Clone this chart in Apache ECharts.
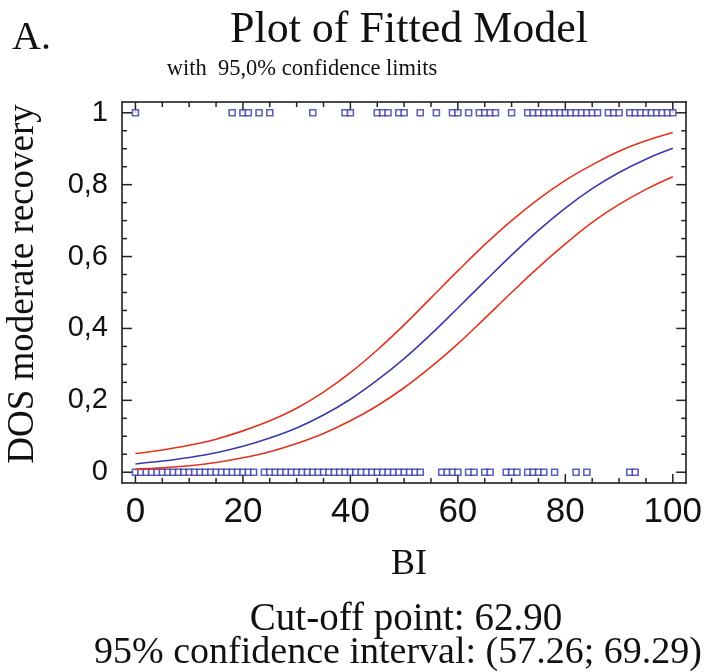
<!DOCTYPE html>
<html>
<head>
<meta charset="utf-8">
<script src="https://cdn.jsdelivr.net/npm/echarts@6/dist/echarts.min.js"></script>
<style>
  html, body { margin: 0; padding: 0; background: #fff; }
  #main { width: 705px; height: 672px; }
</style>
</head>
<body>
<div id="main"></div>
<script>
// BI values of the observed cases (y = 1 recovered, y = 0 not)
var biRecovered = [0, 18, 20, 21, 23, 25, 33, 39, 40, 45, 46, 47, 49, 50, 53, 56, 59, 60, 62,
    64, 65, 66, 67, 70, 73, 74, 75, 76, 77, 78, 79, 80, 81, 82, 83, 84, 85, 86,
    88, 89, 90, 92, 93, 94, 95, 96, 97, 98, 99, 100];
var biNotRecovered = [0, 1, 2, 3, 4, 5, 6, 7, 8, 9, 10, 11, 12, 13, 14, 15, 16, 17, 18, 19, 20, 21, 22,
    24, 25, 26, 27, 28, 29, 30, 31, 32, 33, 34, 35, 36, 37, 38, 39, 40, 41, 42, 43, 44, 45,
    46, 47, 48, 49, 50, 51, 52, 53,
    57, 58, 59, 60, 62, 63, 65, 66, 69, 70, 71, 73, 74, 75, 76, 78, 82, 84, 92, 93];

// fitted curve and 95% limits
var biGrid = [0, 5, 10, 15, 20, 25, 30, 35, 40, 45, 50, 55, 60, 65, 70, 75, 80, 85, 90, 95, 100];
var fitted = [0.023, 0.031, 0.041, 0.054, 0.072, 0.095, 0.123, 0.159, 0.203, 0.256, 0.316,
    0.384, 0.457, 0.531, 0.604, 0.673, 0.735, 0.789, 0.834, 0.871, 0.901];
var upper = [0.052, 0.062, 0.075, 0.092, 0.115, 0.143, 0.178, 0.223, 0.277, 0.340, 0.410,
    0.485, 0.560, 0.633, 0.700, 0.760, 0.812, 0.855, 0.893, 0.922, 0.945];
var lower = [0.008, 0.012, 0.018, 0.027, 0.040, 0.057, 0.080, 0.108, 0.143, 0.185, 0.235,
    0.293, 0.357, 0.428, 0.500, 0.570, 0.635, 0.695, 0.745, 0.787, 0.822];

// axis ranges and tick values
var xMin = -2.5, xMax = 102.5, yMin = -0.03, yMax = 1.03;
var xMajor = [0, 20, 40, 60, 80, 100];
var xMinor = [5, 10, 15, 25, 30, 35, 45, 50, 55, 65, 70, 75, 85, 90, 95];
var yMajor = [0, 0.2, 0.4, 0.6, 0.8, 1];
var yMinor = [0.05, 0.1, 0.15, 0.25, 0.3, 0.35, 0.45, 0.5, 0.55, 0.65, 0.7, 0.75, 0.85, 0.9, 0.95];

var serif = '"Liberation Serif", "DejaVu Serif", serif';
var sans = '"Liberation Sans", Arial, sans-serif';
var blue = '#3a3aa8';
var red = '#e0341e';

function pairs(xs, ys) {
    return xs.map(function (x, i) { return [x, ys[i]]; });
}
function constPairs(xs, y) {
    return xs.map(function (x) { return [x, y]; });
}

// inward frame ticks: [x, y, pixel dx, pixel dy], placed through the axes
var tickData = []
    .concat(xMajor.map(function (v) { return [v, yMin, 0, -9]; }))
    .concat(xMinor.map(function (v) { return [v, yMin, 0, -5]; }))
    .concat(xMajor.map(function (v) { return [v, yMax, 0, 11]; }))
    .concat(xMinor.map(function (v) { return [v, yMax, 0, 5]; }))
    .concat(yMajor.map(function (v) { return [xMin, v, 10, 0]; }))
    .concat(yMinor.map(function (v) { return [xMin, v, 5, 0]; }))
    .concat(yMajor.map(function (v) { return [xMax, v, -10, 0]; }))
    .concat(yMinor.map(function (v) { return [xMax, v, -5, 0]; }));

function xAx(pos, labels) {
    return {
        type: 'value', position: pos, min: xMin, max: xMax,
        axisLine: { show: true, onZero: false, lineStyle: { color: '#111', width: 1.5 } },
        splitLine: { show: false },
        axisTick: { show: false },
        axisLabel: labels ? { show: true, customValues: xMajor, margin: 12,
            fontFamily: sans, fontSize: 35, color: '#111' } : { show: false }
    };
}
function yAx(pos, labels) {
    return {
        type: 'value', position: pos, min: yMin, max: yMax,
        axisLine: { show: true, onZero: false, lineStyle: { color: '#111', width: 1.5 } },
        splitLine: { show: false },
        axisTick: { show: false },
        axisLabel: labels ? { show: true, customValues: yMajor, margin: 14,
            fontFamily: sans, fontSize: 29, color: '#111',
            formatter: function (v) { return String(v).replace('.', ','); } } : { show: false }
    };
}

var chart = echarts.init(document.getElementById('main'));
var option = {
    animation: false,
    grid: { left: 122, top: 102, right: 17, bottom: 189 },
    xAxis: [xAx('bottom', true), xAx('top', false)],
    yAxis: [yAx('left', true), yAx('right', false)],
    graphic: [
        { type: 'text', x: 12, y: 38,
          style: { text: 'A.', font: '40px ' + serif, fill: '#111',
                   textAlign: 'left', textVerticalAlign: 'middle' } },
        { type: 'text', x: 409, y: 30,
          style: { text: 'Plot of Fitted Model', font: '44px ' + serif, fill: '#111',
                   textAlign: 'center', textVerticalAlign: 'middle' } },
        { type: 'text', x: 302, y: 69,
          style: { text: 'with  95,0% confidence limits', font: '22.5px ' + serif, fill: '#111',
                   textAlign: 'center', textVerticalAlign: 'middle' } },
        { type: 'text', x: 23, y: 284, rotation: Math.PI / 2,
          style: { text: 'DOS moderate recovery', font: '37px ' + serif, fill: '#111',
                   textAlign: 'center', textVerticalAlign: 'middle' } },
        { type: 'text', x: 409, y: 565,
          style: { text: 'BI', font: '36px ' + serif, fill: '#111',
                   textAlign: 'center', textVerticalAlign: 'middle' } },
        { type: 'text', x: 406, y: 620,
          style: { text: 'Cut-off point: 62.90', font: '39px ' + serif, fill: '#111',
                   textAlign: 'center', textVerticalAlign: 'middle' } },
        { type: 'text', x: 398, y: 653,
          style: { text: '95% confidence interval: (57.26; 69.29)', font: '38px ' + serif, fill: '#111',
                   textAlign: 'center', textVerticalAlign: 'middle' } }
    ],
    series: [
        {
            name: 'ticks', type: 'custom', data: tickData, silent: true,
            encode: { x: 0, y: 1 },
            renderItem: function (params, api) {
                var p = api.coord([api.value(0), api.value(1)]);
                return {
                    type: 'line',
                    shape: { x1: p[0], y1: p[1], x2: p[0] + api.value(2), y2: p[1] + api.value(3) },
                    style: { stroke: '#222', lineWidth: 1.5 }
                };
            }
        },
        {
            name: 'upper', type: 'line', data: pairs(biGrid, upper), smooth: 0.4,
            showSymbol: false, lineStyle: { color: red, width: 1.6 }
        },
        {
            name: 'lower', type: 'line', data: pairs(biGrid, lower), smooth: 0.4,
            showSymbol: false, lineStyle: { color: red, width: 1.6 }
        },
        {
            name: 'fitted', type: 'line', data: pairs(biGrid, fitted), smooth: 0.4,
            showSymbol: false, lineStyle: { color: blue, width: 1.6 }
        },
        {
            name: 'y1', type: 'scatter', data: constPairs(biRecovered, 1),
            symbol: 'rect', symbolSize: [6, 6],
            itemStyle: { color: '#fff', borderColor: blue, borderWidth: 1.6 }
        },
        {
            name: 'y0', type: 'scatter', data: constPairs(biNotRecovered, 0),
            symbol: 'rect', symbolSize: [6, 6],
            itemStyle: { color: '#fff', borderColor: blue, borderWidth: 1.6 }
        }
    ]
};
chart.setOption(option);
</script>
</body>
</html>
